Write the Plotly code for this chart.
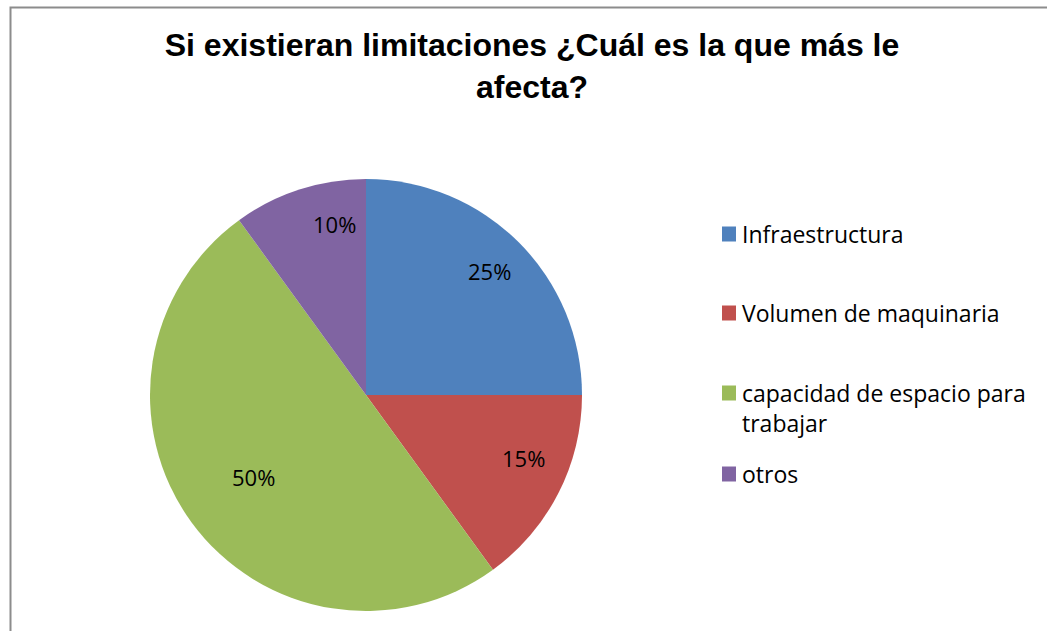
import math
import plotly.graph_objects as go

categories = ["Infraestructura", "Volumen de maquinaria", "capacidad de espacio para trabajar", "otros"]
legend_labels = ["Infraestructura", "Volumen de maquinaria", "capacidad de espacio para<br>trabajar", "otros"]
values = [25, 15, 50, 10]
colors = ["#4F81BD", "#C0504D", "#9BBB59", "#8064A2"]
title_text = "Si existieran limitaciones ¿Cuál es la que más le<br>afecta?"

W, H = 1047, 631
cx, cy, R = 366, 395, 216  # pie centre / radius in pixels


def px_x(x):
    return x / W


def px_y(y):
    return 1 - y / H


fig = go.Figure()
fig.add_trace(go.Pie(
    labels=categories, values=values, sort=False, direction="clockwise", rotation=0,
    marker=dict(colors=colors, line=dict(width=0)),
    textinfo="none", hoverinfo="label+percent", showlegend=False,
    domain=dict(x=[px_x(cx - R), px_x(cx + R)], y=[px_y(cy + R), px_y(cy - R)]),
))

annotations = []
total = sum(values)
cum = 0
label_r = [0.81, 0.82, 0.78, 0.83]
for i, v in enumerate(values):
    mid = (cum + v / 2) / total * 2 * math.pi
    cum += v
    lx = cx + label_r[i] * R * math.sin(mid)
    ly = cy - label_r[i] * R * math.cos(mid)
    annotations.append(dict(x=px_x(lx), y=px_y(ly), xref="paper", yref="paper",
                            text=f"{round(v / total * 100)}%", showarrow=False,
                            font=dict(family="Open Sans", size=22, color="black")))

shapes = [dict(type="rect", xref="paper", yref="paper",
               x0=px_x(10.5), x1=1.2, y0=-0.2, y1=px_y(7.5),
               line=dict(color="#8C8C8C", width=2), fillcolor="rgba(0,0,0,0)")]

legend_y = [234, 313, 393, 474]
for i, lab in enumerate(legend_labels):
    y = legend_y[i]
    shapes.append(dict(type="rect", xref="paper", yref="paper",
                       x0=px_x(722), x1=px_x(736), y0=px_y(y + 7.5), y1=px_y(y - 7.5),
                       fillcolor=colors[i], line=dict(width=0)))
    annotations.append(dict(x=px_x(740), y=px_y(y - 18), xref="paper", yref="paper",
                            xanchor="left", yanchor="top", align="left", showarrow=False,
                            text=lab, font=dict(family="Open Sans", size=23, color="black")))

fig.update_layout(
    width=W, height=H, margin=dict(l=0, r=0, t=0, b=0),
    paper_bgcolor="white", plot_bgcolor="white",
    title=dict(text=title_text, x=px_x(532), xanchor="center", y=px_y(56), yanchor="top",
               font=dict(family="Liberation Sans", size=32, color="black", weight="bold")),
    annotations=annotations, shapes=shapes,
)
fig.write_html("out.html", post_script="document.body.style.margin='0';",
               config={"displayModeBar": False})
